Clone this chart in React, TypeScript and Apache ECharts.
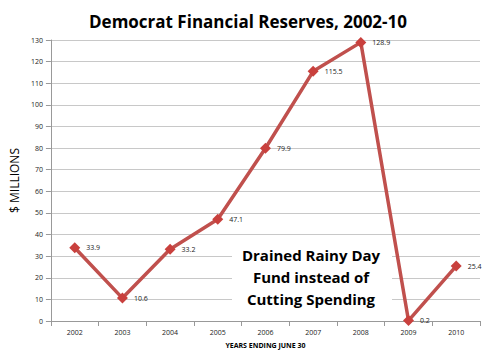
import React, { useEffect, useRef } from "react";
import * as echarts from "echarts";

const years = ["2002", "2003", "2004", "2005", "2006", "2007", "2008", "2009", "2010"];
const reserves = [33.9, 10.6, 33.2, 47.1, 79.9, 115.5, 128.9, 0.2, 25.4];
const titleText = "Democrat Financial Reserves, 2002-10";
const yAxisName = "$ MILLIONS";
const xAxisName = "YEARS ENDING JUNE 30";
const noteLines = ["Drained Rainy Day", "Fund instead of", "Cutting Spending"];

export default function App() {
  const ref = useRef<HTMLDivElement>(null);
  useEffect(() => {
    const chart = echarts.init(ref.current!, null, { renderer: "svg" });
    chart.setOption({
      animation: false,
      backgroundColor: "#fff",
      title: {
        text: titleText,
        left: "center",
        top: 8,
        textStyle: { fontFamily: "Open Sans", fontWeight: "bold", fontSize: 17, color: "#000" },
      },
      graphic: [
        {
          type: "rect",
          shape: { x: 5, y: 3, width: 484, height: 350 },
          style: { fill: "none", stroke: "#b8b8b8", lineWidth: 1 },
          z: -1,
        },
        {
          type: "rect",
          shape: { x: 232, y: 242, width: 160, height: 70 },
          style: { fill: "#fff" },
          z: 1,
        },
        {
          type: "text",
          x: 311,
          y: 244,
          z: 6,
          style: {
            text: noteLines.join("\n"),
            fontFamily: "Open Sans",
            fontWeight: "bold",
            fontSize: 15,
            lineHeight: 22,
            textAlign: "center",
            fill: "#000",
          },
        },
      ],
      grid: { left: 47, right: 16, top: 40, bottom: 38 },
      xAxis: {
        type: "category",
        data: years,
        boundaryGap: true,
        name: xAxisName,
        nameLocation: "middle",
        nameGap: 21,
        nameTextStyle: { fontFamily: "Open Sans", fontWeight: "bold", fontSize: 7, color: "#000" },
        axisLine: { lineStyle: { color: "#999" } },
        axisTick: { show: true, alignWithLabel: false, lineStyle: { color: "#999" } },
        axisLabel: { fontFamily: "Open Sans", fontSize: 7, color: "#222", margin: 8 },
      },
      yAxis: {
        type: "value",
        min: 0,
        max: 130,
        interval: 10,
        name: yAxisName,
        nameLocation: "middle",
        nameGap: 20,
        nameTextStyle: { fontFamily: "Open Sans", fontSize: 12, color: "#000" },
        axisLine: { show: true, lineStyle: { color: "#999" } },
        axisTick: { show: true, lineStyle: { color: "#999" } },
        axisLabel: { fontFamily: "Open Sans", fontSize: 7, color: "#222", margin: 8 },
        splitLine: { lineStyle: { color: "#c8c8c8" } },
      },
      series: [
        {
          type: "line",
          data: reserves,
          symbol: "diamond",
          symbolSize: 11,
          lineStyle: { color: "#c0504d", width: 3.5 },
          itemStyle: { color: "#c9403d" },
          label: {
            show: true,
            position: "right",
            distance: 6,
            fontFamily: "Open Sans",
            fontSize: 7,
            color: "#222",
          },
          z: 3,
        },
      ],
    });
    return () => chart.dispose();
  }, []);
  return <div ref={ref} style={{ width: 496, height: 359, margin: -8 }} />;
}
